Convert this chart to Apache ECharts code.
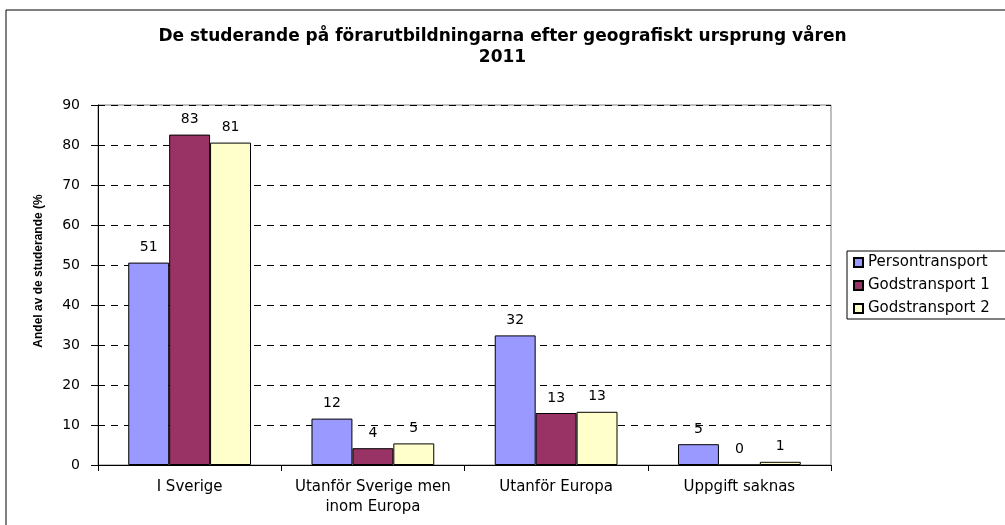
<!DOCTYPE html>
<html>
<head>
<meta charset="utf-8">
<script src="https://cdn.jsdelivr.net/npm/echarts@6/dist/echarts.min.js"></script>
<style>
    html, body { margin: 0; padding: 0; background: #fff; }
    #chart { width: 1005px; height: 525px; }
</style>
</head>
<body>
<div id="chart"></div>
<script>
// data
const categories = ['I Sverige', 'Utanför Sverige men\ninom Europa', 'Utanför Europa', 'Uppgift saknas'];
const persontransport = [50.6, 11.6, 32.4, 5.2];
const godstransport1 = [82.6, 4.2, 13.0, 0];
const godstransport2 = [80.6, 5.4, 13.3, 0.8];
const yTicks = { min: 0, max: 90, interval: 10 };

const chart = echarts.init(document.getElementById('chart'));

function barSeries(name, data, color) {
    return {
        name: name,
        type: 'bar',
        data: data,
        barGap: '0%',
        barCategoryGap: '33%',
        itemStyle: { color: color, borderColor: '#000', borderWidth: 1 },
        label: {
            show: true,
            position: 'top',
            distance: 8,
            color: '#000',
            fontFamily: 'DejaVu Sans',
            fontSize: 14,
            formatter: p => Math.round(p.value)
        }
    };
}

chart.setOption({
    animation: false,
    backgroundColor: '#fff',
    title: {
        text: 'De studerande på förarutbildningarna efter geografiskt ursprung våren\n2011',
        left: 'center',
        top: 26,
        padding: [0, 0, 0, 24],
        textStyle: {
            fontFamily: 'DejaVu Sans',
            fontWeight: 'bold',
            fontSize: 17,
            lineHeight: 21,
            color: '#000'
        }
    },
    legend: {
        orient: 'vertical',
        left: 847,
        top: 251,
        padding: [4, 40, 3, 6],
        itemWidth: 9,
        itemHeight: 9,
        itemGap: 8,
        icon: 'rect',
        borderColor: '#000',
        borderWidth: 1,
        textStyle: { fontFamily: 'DejaVu Sans', fontSize: 15, lineHeight: 15, color: '#000' },
        data: ['Persontransport', 'Godstransport 1', 'Godstransport 2']
    },
    grid: {
        left: 98,
        right: 174,
        top: 105,
        bottom: 60,
        show: true,
        borderColor: '#808080',
        borderWidth: 1
    },
    xAxis: {
        type: 'category',
        data: categories,
        axisLine: { lineStyle: { color: '#000', width: 1 } },
        axisTick: { show: true, interval: 0, length: 6, lineStyle: { color: '#000' } },
        axisLabel: {
            interval: 0,
            color: '#000',
            fontFamily: 'DejaVu Sans',
            fontSize: 15,
            lineHeight: 20,
            margin: 12
        }
    },
    yAxis: {
        type: 'value',
        min: yTicks.min,
        max: yTicks.max,
        interval: yTicks.interval,
        axisLine: { show: true, lineStyle: { color: '#000', width: 1 } },
        axisTick: { show: true, length: 7, lineStyle: { color: '#000' } },
        axisLabel: {
            color: '#000',
            fontFamily: 'DejaVu Sans',
            fontSize: 14,
            margin: 18
        },
        splitLine: {
            show: true,
            lineStyle: { color: '#000', type: [7, 6], width: 1 }
        }
    },
    graphic: [
        {
            type: 'rect',
            shape: { x: 6, y: 10, width: 1020, height: 540 },
            style: { fill: 'none', stroke: '#000', lineWidth: 1 },
            silent: true,
            z: -1
        },
        {
            type: 'text',
            x: 39,
            y: 271,
            rotation: Math.PI / 2,
            style: {
                text: 'Andel av de studerande (%',
                fontFamily: 'Liberation Sans',
                fontWeight: 'bold',
                fontSize: 12,
                fill: '#000',
                align: 'center',
                verticalAlign: 'middle'
            }
        }
    ],
    series: [
        barSeries('Persontransport', persontransport, '#9999FF'),
        barSeries('Godstransport 1', godstransport1, '#993366'),
        barSeries('Godstransport 2', godstransport2, '#FFFFCC')
    ]
});
</script>
</body>
</html>
